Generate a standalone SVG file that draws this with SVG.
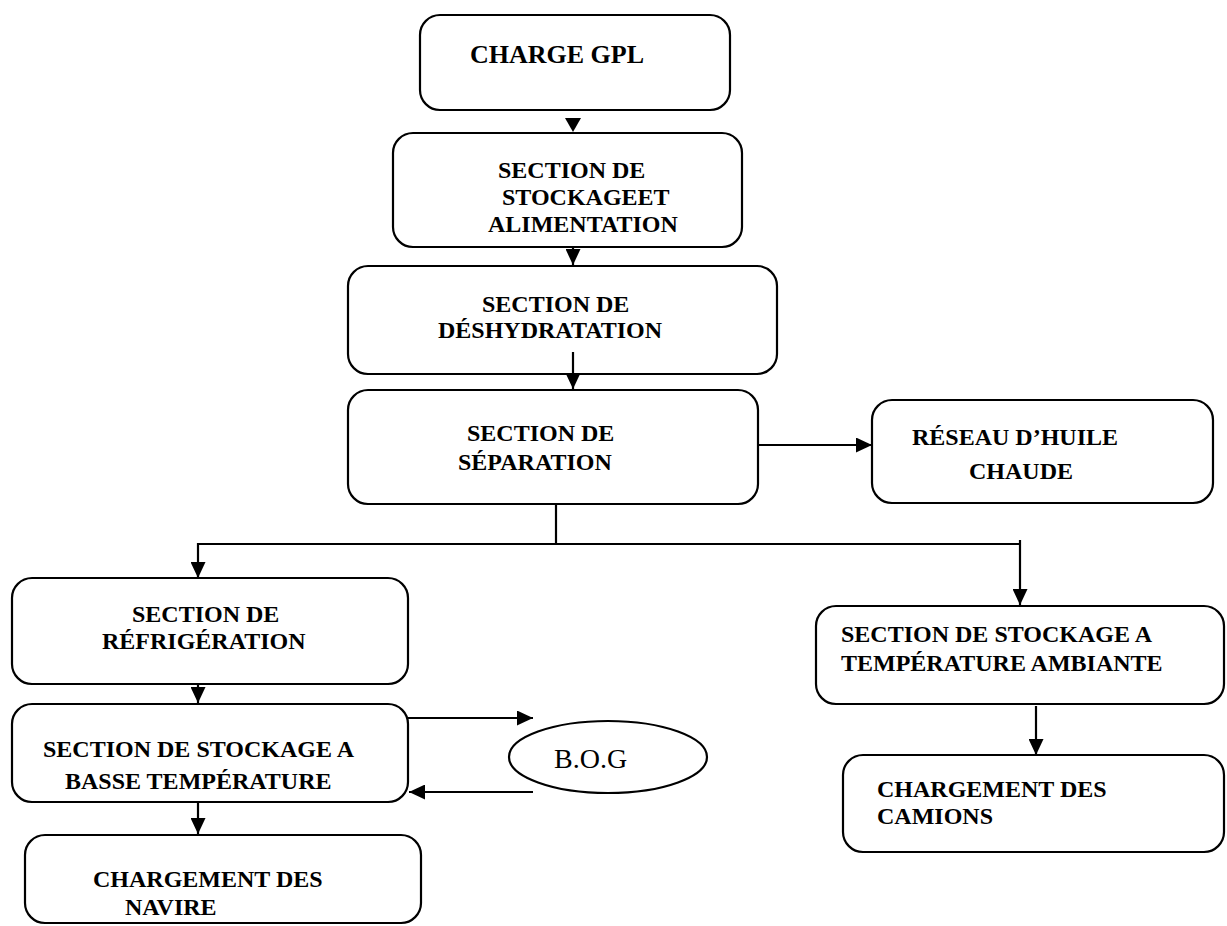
<svg xmlns="http://www.w3.org/2000/svg" width="1227" height="926" viewBox="0 0 1227 926">
  <style>
    .box { fill: #ffffff; stroke: #000000; stroke-width: 2.2; }
    .lbl { font-family: "Liberation Serif", "Times New Roman", serif; font-weight: bold; font-size: 24px; fill: #000000; }
    .big { font-size: 26px; }
    .plain { font-family: "Liberation Serif", "Times New Roman", serif; font-weight: normal; font-size: 28px; fill: #000000; }
    .wire { fill: none; stroke: #000000; stroke-width: 2.2; }
    .arr { marker-end: url(#head); }
  </style>
  <defs>
    <marker id="head" viewBox="0 0 16 15" markerWidth="16" markerHeight="15" refX="16" refY="7.5" orient="auto" markerUnits="userSpaceOnUse">
      <path d="M0,0 L16,7.5 L0,15 z" fill="#000000"/>
    </marker>
  </defs>

  <rect width="1227" height="926" fill="#ffffff"/>

  <!-- process nodes -->
  <g id="charge-gpl">
    <rect class="box" x="420" y="15" width="310" height="95" rx="20"/>
    <text class="lbl big" x="470" y="63">CHARGE GPL</text>
  </g>

  <g id="stockage-alimentation">
    <rect class="box" x="393" y="133" width="349" height="114" rx="20"/>
    <text class="lbl" x="498" y="178">SECTION DE</text>
    <text class="lbl" x="502" y="205">STOCKAGEET</text>
    <text class="lbl" x="488" y="232">ALIMENTATION</text>
  </g>

  <g id="deshydratation">
    <rect class="box" x="348" y="266" width="429" height="108" rx="20"/>
    <text class="lbl" x="482" y="312">SECTION DE</text>
    <text class="lbl" x="438" y="338">DÉSHYDRATATION</text>
  </g>

  <g id="separation">
    <rect class="box" x="348" y="390" width="410" height="114" rx="20"/>
    <text class="lbl" x="467" y="441">SECTION DE</text>
    <text class="lbl" x="458" y="470">SÉPARATION</text>
  </g>

  <g id="huile-chaude">
    <rect class="box" x="872" y="400" width="341" height="103" rx="20"/>
    <text class="lbl" x="912" y="445">RÉSEAU D’HUILE</text>
    <text class="lbl" x="969" y="479">CHAUDE</text>
  </g>

  <g id="refrigeration">
    <rect class="box" x="12" y="578" width="396" height="106" rx="20"/>
    <text class="lbl" x="132" y="622">SECTION DE</text>
    <text class="lbl" x="102" y="649">RÉFRIGÉRATION</text>
  </g>

  <g id="stockage-basse">
    <rect class="box" x="12" y="704" width="396" height="98" rx="20"/>
    <text class="lbl" x="43" y="757">SECTION DE STOCKAGE A</text>
    <text class="lbl" x="65" y="789">BASSE TEMPÉRATURE</text>
  </g>

  <g id="bog">
    <ellipse class="box" cx="608" cy="757" rx="99" ry="36"/>
    <text class="plain" x="554" y="768">B.O.G</text>
  </g>

  <g id="chargement-navire">
    <rect class="box" x="25" y="835" width="396" height="88" rx="20"/>
    <text class="lbl" x="93" y="887">CHARGEMENT DES</text>
    <text class="lbl" x="125" y="915">NAVIRE</text>
  </g>

  <g id="stockage-ambiante">
    <rect class="box" x="816" y="606" width="408" height="98" rx="20"/>
    <text class="lbl" x="841" y="642">SECTION DE STOCKAGE A</text>
    <text class="lbl" x="841" y="671">TEMPÉRATURE AMBIANTE</text>
  </g>

  <g id="chargement-camions">
    <rect class="box" x="843" y="755" width="381" height="97" rx="20"/>
    <text class="lbl" x="877" y="797">CHARGEMENT DES</text>
    <text class="lbl" x="877" y="824">CAMIONS</text>
  </g>

  <!-- connectors -->
  <g id="connectors">
    <polygon points="565,118 581,118 573,132" fill="#000000"/>
    <line class="wire arr" x1="573" y1="247" x2="573" y2="265"/>
    <line class="wire arr" x1="573" y1="352" x2="573" y2="389"/>
    <line class="wire arr" x1="758" y1="445" x2="872" y2="445"/>
    <line class="wire" x1="556" y1="504" x2="556" y2="544"/>
    <line class="wire" x1="197" y1="544" x2="1021" y2="544"/>
    <line class="wire arr" x1="198" y1="543" x2="198" y2="578"/>
    <line class="wire arr" x1="1020" y1="540" x2="1020" y2="605"/>
    <line class="wire arr" x1="198" y1="684" x2="198" y2="703"/>
    <line class="wire arr" x1="408" y1="718" x2="533" y2="718"/>
    <line class="wire arr" x1="533" y1="792" x2="409" y2="792"/>
    <line class="wire arr" x1="198" y1="802" x2="198" y2="834"/>
    <line class="wire arr" x1="1036" y1="706" x2="1036" y2="755"/>
  </g>
</svg>
